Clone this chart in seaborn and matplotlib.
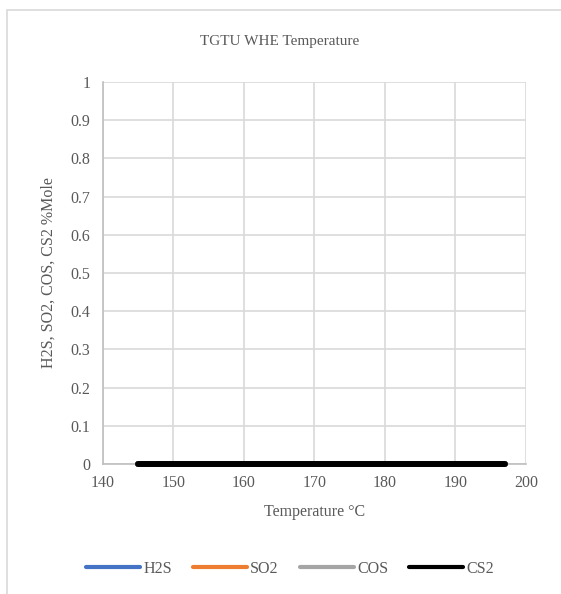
import matplotlib
matplotlib.use("Agg")
import matplotlib.pyplot as plt
from matplotlib.patches import Rectangle
import pandas as pd
import seaborn as sns

# Temperature sweep and mole-percent results per species
temperature = [145, 150, 160, 170, 180, 190, 197]
h2s = [0, 0, 0, 0, 0, 0, 0]
so2 = [0, 0, 0, 0, 0, 0, 0]
cos = [0, 0, 0, 0, 0, 0, 0]
cs2 = [0, 0, 0, 0, 0, 0, 0]
species = ["H2S", "SO2", "COS", "CS2"]
colors = ["#4472C4", "#ED7D31", "#A5A5A5", "#000000"]
x_ticks = [140, 150, 160, 170, 180, 190, 200]
y_ticks = [0, 0.1, 0.2, 0.3, 0.4, 0.5, 0.6, 0.7, 0.8, 0.9, 1]
y_tick_labels = ["0", "0.1", "0.2", "0.3", "0.4", "0.5", "0.6", "0.7", "0.8", "0.9", "1"]

rows = []
for name, vals in zip(species, [h2s, so2, cos, cs2]):
    for t, v in zip(temperature, vals):
        rows.append({"Temperature": t, "Value": v, "Species": name})
df = pd.DataFrame(rows)

sns.set_theme(style="white")
plt.rcParams["font.family"] = ["Liberation Serif", "DejaVu Serif"]
text_color = "#595959"
fs = 11.5

W, H = 561, 594
fig = plt.figure(figsize=(W / 100, H / 100), dpi=100)
ax = fig.add_axes([103 / W, 1 - 464 / H, (526 - 103) / W, (464 - 82) / H])

sns.lineplot(data=df, x="Temperature", y="Value", hue="Species",
             hue_order=species, palette=colors, linewidth=4.3,
             ax=ax, legend=False, sort=True)
for line in ax.get_lines():
    line.set_solid_capstyle("round")
    line.set_clip_on(False)
    line.set_zorder(3)

ax.set_xlim(140, 200)
ax.set_ylim(0, 1)
ax.set_xticks(x_ticks)
ax.set_yticks(y_ticks)
ax.set_yticklabels(y_tick_labels)
ax.grid(True, color="#d9d9d9", linewidth=1.2)
ax.set_axisbelow(True)
for s in ["top", "right"]:
    ax.spines[s].set_visible(False)
for s in ["left", "bottom"]:
    ax.spines[s].set_color("#bfbfbf")
    ax.spines[s].set_linewidth(1.2)
ax.tick_params(axis="both", length=0, labelsize=fs, colors=text_color)
ax.tick_params(axis="x", pad=8)
ax.tick_params(axis="y", pad=9)

ax.set_xlabel("Temperature °C", fontsize=fs, color=text_color, labelpad=9)
ax.set_ylabel("H2S, SO2, COS, CS2 %Mole", fontsize=fs, color=text_color, labelpad=10)
fig.text(280 / W, 1 - 42 / H, "TGTU WHE Temperature", ha="center", va="center",
         fontsize=11, color=text_color)

handles = [plt.Line2D([0], [0], color=c, linewidth=3, solid_capstyle="round") for c in colors]
leg = fig.legend(handles, species, loc="center", bbox_to_anchor=(290 / W, 1 - 569 / H),
                 ncol=4, frameon=False, fontsize=fs, handlelength=3.4,
                 handletextpad=0.2, columnspacing=1.3)
for t in leg.get_texts():
    t.set_color(text_color)

# Chart area border
fig.patches.append(Rectangle((7 / W, -0.1), 1.2, 1 - 10 / H + 0.1, transform=fig.transFigure,
                             fill=False, edgecolor="#d9d9d9", linewidth=1.2))

fig.savefig("out.png", dpi=100)
